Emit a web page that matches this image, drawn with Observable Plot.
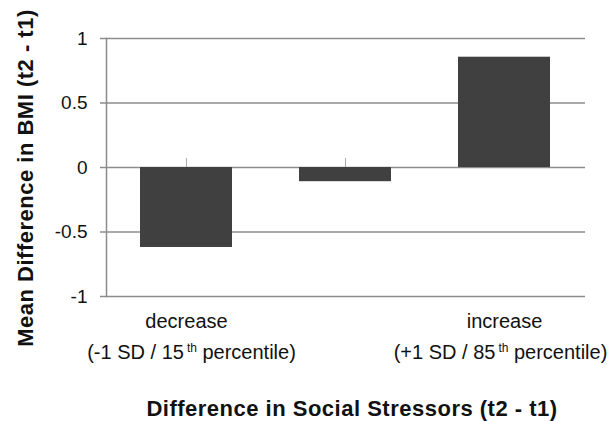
<!DOCTYPE html>
<html>
<head>
<meta charset="utf-8">
<script src="https://cdn.jsdelivr.net/npm/d3@7"></script>
<script src="https://cdn.jsdelivr.net/npm/@observablehq/plot@0.6"></script>
<style>
  html, body { margin: 0; padding: 0; background: #fff; }
  svg { font-family: "Liberation Sans", Arial, sans-serif; }
</style>
</head>
<body>
<div id="chart"></div>
<script>
const categories = ["decrease", "mean", "increase"];
const values = [-0.62, -0.11, 0.855];
const labelLine1 = ["decrease", "", "increase"];
const labelLine2 = ["(-1 SD / 15th percentile)", "", "(+1 SD / 85th percentile)"];
const yTicks = [-1, -0.5, 0, 0.5, 1];
const xTitle = "Difference in Social Stressors (t2 - t1)";
const yTitle = "Mean Difference in BMI (t2 - t1)";

const data = categories.map((c, i) => ({cat: c, value: values[i], l1: labelLine1[i], l2: labelLine2[i]}));
const gridColor = "#8c8c8c";
const txt = "#111";

const chart = Plot.plot({
  width: 609,
  height: 421,
  marginLeft: 106,
  marginRight: 24,
  marginTop: 38,
  marginBottom: 125,
  style: {fontFamily: "Liberation Sans, Arial, sans-serif", background: "#fff"},
  x: {domain: categories, paddingInner: 0.42, paddingOuter: 0.21, axis: null},
  y: {domain: [-1, 1], axis: null},
  marks: [
    Plot.ruleY(yTicks, {stroke: gridColor, strokeWidth: 1.5}),
    Plot.frame({anchor: "left", stroke: gridColor, strokeWidth: 1.5}),
    Plot.axisY({
      ticks: yTicks,
      tickFormat: d => String(d),
      tickSize: 6,
      tickPadding: 13,
      fontSize: 19,
      stroke: gridColor,
      strokeWidth: 1.5,
      fill: txt,
      label: null
    }),
    Plot.ruleX(data, {x: "cat", y1: 0, y2: 0.07, stroke: "#aaa", strokeWidth: 1}),
    Plot.barY(data, {x: "cat", y: "value", fill: "#404040"}),
    Plot.text(data, {x: "cat", text: "l1", frameAnchor: "bottom", lineAnchor: "middle", textAnchor: "middle", dy: 24.6, fontSize: 20, fill: txt}),
    Plot.text(data.filter(d => d.cat === "decrease"), {x: "cat", text: "l2", frameAnchor: "bottom", lineAnchor: "middle", textAnchor: "middle", dx: 5, dy: 55.6, fontSize: 20, fill: txt}),
    Plot.text(data.filter(d => d.cat === "increase"), {x: "cat", text: "l2", frameAnchor: "bottom", lineAnchor: "middle", textAnchor: "middle", dx: -4, dy: 55.6, fontSize: 20, fill: txt}),
    Plot.text([xTitle], {text: d => d, frameAnchor: "bottom", lineAnchor: "middle", textAnchor: "middle", dx: 6, dy: 112, fontSize: 22, fontWeight: "bold", fill: txt}),
    Plot.text([yTitle], {text: d => d, frameAnchor: "left", lineAnchor: "middle", textAnchor: "middle", dx: -81, dy: 10.5, rotate: -90, fontSize: 22, fontWeight: "bold", fill: txt})
  ]
});

// superscript ordinal suffixes
d3.select(chart).selectAll("text").each(function () {
  const t = this.textContent;
  const m = t.match(/^(.*\d)(th)( .*)$/);
  if (m && this.children.length === 0) {
    const sel = d3.select(this);
    sel.text(null);
    sel.append("tspan").text(m[1]);
    sel.append("tspan").attr("dx", 3).attr("dy", -7).attr("font-size", 12).text(m[2]);
    sel.append("tspan").attr("dy", 7).text(m[3]);
  }
});
d3.select(chart).selectAll("text").filter(function () { return this.textContent === yTitle || this.textContent === xTitle; })
  .style("letter-spacing", "0.5px");

document.getElementById("chart").appendChild(chart);
</script>
</body>
</html>
